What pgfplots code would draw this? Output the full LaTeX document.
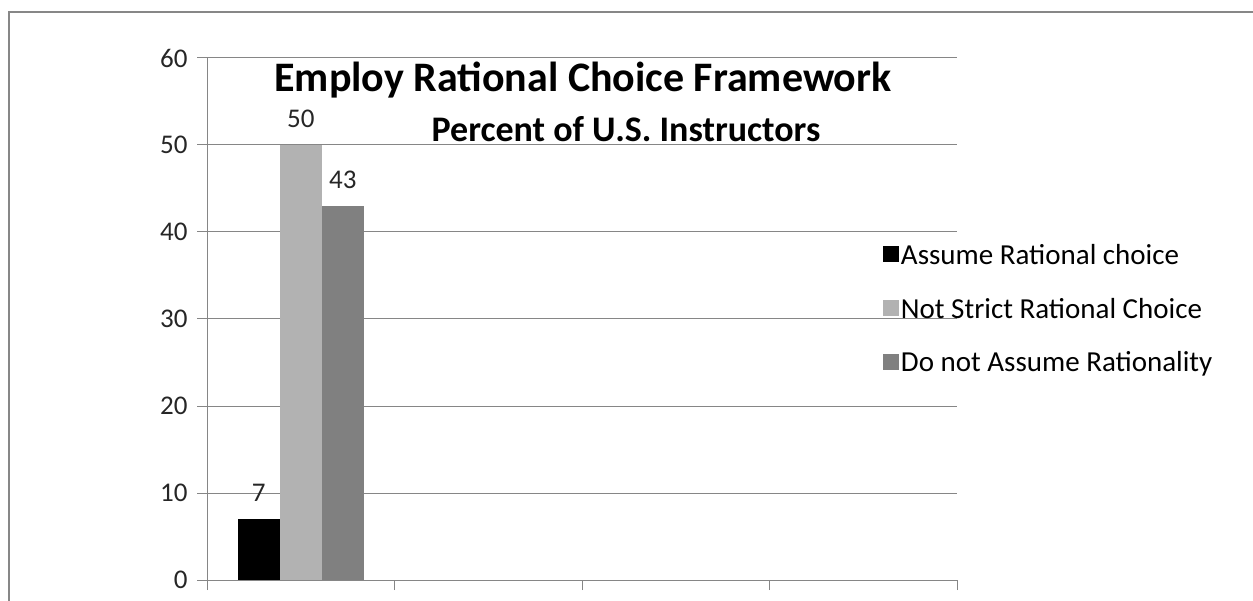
\documentclass[border=0pt]{standalone}
\usepackage{fontspec}
\setmainfont{Carlito}
\usepackage{pgfplots}
\pgfplotsset{compat=1.18}
\definecolor{gridgray}{HTML}{868686}
\definecolor{framegray}{HTML}{878787}
\definecolor{textgray}{HTML}{262626}
\definecolor{lightbar}{HTML}{B2B2B2}
\definecolor{darkbar}{HTML}{808080}
\begin{document}
\begin{tikzpicture}
\begin{axis}[
    at={(207pt,20pt)}, anchor=south west,
    scale only axis,
    width=750pt, height=522pt, % plot area in px
    xmin=-0.5, xmax=3.5,
    ymin=0, ymax=60,
    xtick={-0.5,0.5,1.5,2.5,3.5}, xticklabels={},
    ytick={0,10,...,60},
    axis x line*=bottom, axis y line*=left,
    axis line style={gridgray, line width=1pt, -},
    tick align=outside, major tick length=10pt,
    tick style={gridgray, line width=1pt},
    ymajorgrids, grid style={gridgray, line width=1pt},
    /pgf/number format/assume math mode=true,
    tick label style={font=\fontsize{27}{32}\selectfont, text=textgray},
    yticklabel style={xshift=-6pt},
    ybar=0pt, bar width=42pt,
    nodes near coords,
    every node near coord/.append style={font=\fontsize{27}{32}\selectfont, text=textgray, yshift=14pt},
    legend style={at={(0.901,0.647)}, anchor=north west, draw=none, fill=none,
        font=\fontsize{29}{34}\selectfont, row sep=28pt, inner sep=0pt},
    legend cell align=left,
    legend image code/.code={\fill[#1] (0pt,-7pt) rectangle (16pt,9pt);},
]
\addplot[fill=black, draw=none] coordinates {(0,7)};
\addlegendentry{Assume Rational choice}
\addplot[fill=lightbar, draw=none] coordinates {(0,50)};
\addlegendentry{Not Strict Rational Choice}
\addplot[fill=darkbar, draw=none] coordinates {(0,43)};
\addlegendentry{Do not Assume Rationality}
\end{axis}
% titles
\node[anchor=base, font=\bfseries\fontsize{42}{48}\selectfont] at (583pt,508pt) {Employ Rational Choice Framework};
\node[anchor=base, font=\bfseries\fontsize{36}{40}\selectfont] at (626pt,458pt) {Percent of U.S. Instructors};
% outer frame
\draw[framegray, line width=2.5pt] (9pt,-20pt) -- (9pt,588pt) -- (1280pt,588pt);
\pgfresetboundingbox
\useasboundingbox (0pt,0pt) rectangle (1253pt,600pt);
\end{tikzpicture}
\end{document}
